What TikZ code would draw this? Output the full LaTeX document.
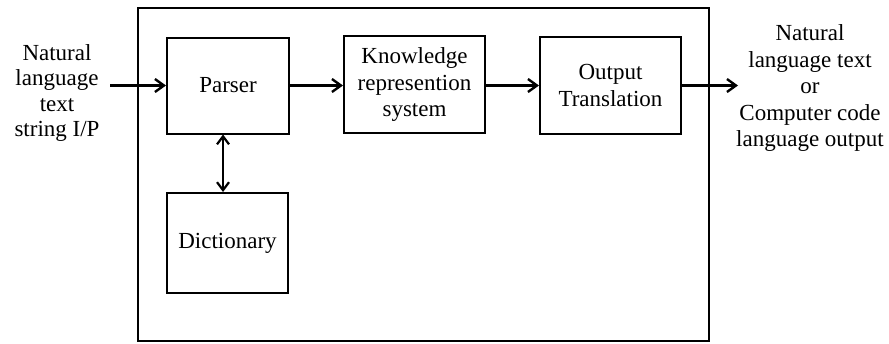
\documentclass[tikz,border=0pt]{standalone}
\usepackage{fontspec}
\setmainfont{Liberation Serif}
\usetikzlibrary{arrows.meta}
\begin{document}
\begin{tikzpicture}[x=1pt,y=-1pt,
  blk/.style={draw,line width=2pt,inner sep=0pt,align=center,font=\fontsize{23}{26.5}\selectfont},
  lbl/.style={inner sep=0pt,align=center,font=\fontsize{23}{26.5}\selectfont},
  conn/.style={line width=2.6pt,-{Straight Barb[length=9pt,width=13pt,line width=2.4pt]}},
  dconn/.style={line width=2.4pt,{Straight Barb[length=8pt,width=12pt,line width=2.2pt]}-{Straight Barb[length=8pt,width=12pt,line width=2.2pt]}}]
\useasboundingbox (0,0) rectangle (889,343);
\node[draw,line width=2.4pt,minimum width=571pt,minimum height=333pt,inner sep=0pt] (frame) at (423.5,174.5) {};
\node[blk,minimum width=122pt,minimum height=96pt] (parser) at (228,85.5) {Parser};
\node[blk,minimum width=121pt,minimum height=100pt] (dict) at (227.5,243) {Dictionary};
\node[blk,minimum width=141pt,minimum height=97pt] (know) at (414.5,84.5) {Knowledge\\represention\\system};
\node[blk,minimum width=141pt,minimum height=97pt] (outp) at (610.5,85.5) {Output\\Translation};
\node[lbl,font=\fontsize{23}{25.3}\selectfont] (inlbl) at (57,93) {Natural\\language\\text\\string I/P};
\node[lbl] (outlbl) at (810,88) {Natural\\language text\\or\\Computer code\\language output};
\coordinate (instart) at (110,85.5);
\coordinate (outend) at (738,85.5);
\draw[conn] (instart) -- (parser.west);
\draw[conn] (parser.east) -- (know.west |- parser.east);
\draw[conn] (know.east |- outp.west) -- (outp.west);
\draw[conn] (outp.east) -- (outend);
\draw[dconn] ([xshift=-5pt]parser.south) -- ([xshift=-4.5pt]dict.north);
\end{tikzpicture}
\end{document}
